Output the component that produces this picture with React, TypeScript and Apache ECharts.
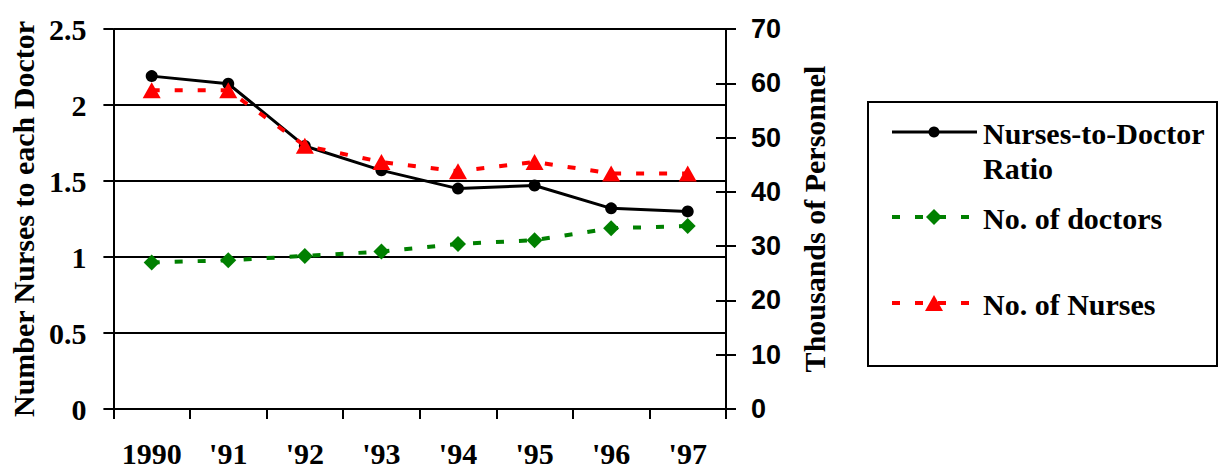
import React, { useEffect, useRef } from "react";
import * as echarts from "echarts";

const categories = ["1990", "'91", "'92", "'93", "'94", "'95", "'96", "'97"];
const ratioValues = [2.19, 2.14, 1.73, 1.57, 1.45, 1.47, 1.32, 1.3];
const doctorValues = [27.0, 27.4, 28.2, 29.0, 30.4, 31.1, 33.3, 33.7];
const nurseValues = [58.7, 58.7, 48.5, 45.5, 43.8, 45.5, 43.4, 43.4];
const leftTicks = { min: 0, max: 2.5, interval: 0.5 };
const rightTicks = { min: 0, max: 70, interval: 10 };
const seriesNames = ["Nurses-to-Doctor\nRatio", "No. of doctors", "No. of Nurses"];

const SERIF = "'Liberation Serif', 'Times New Roman', serif";
const SANS = "'Liberation Sans', Arial, sans-serif";

export default function App() {
  const ref = useRef<HTMLDivElement>(null);
  useEffect(() => {
    document.body.style.margin = "0";
    if (!ref.current) return;
    const chart = echarts.init(ref.current, null, { renderer: "svg" });
    const black = "#000";
    const green = "#008000";
    const red = "#ff0000";
    const serifLabel = { fontFamily: SERIF, fontWeight: "bold" as const, fontSize: 30, color: black };
    const lx = 892;
    const legendText = (x: number, y: number, text: string) => ({
      type: "text",
      x,
      y,
      style: { text, fontFamily: SERIF, fontWeight: "bold", fontSize: 30, fill: black, verticalAlign: "middle", align: "left" },
    });
    chart.setOption({
      animation: false,
      grid: { left: 110, right: 492, top: 29, bottom: 55 },
      xAxis: {
        type: "category",
        data: categories,
        boundaryGap: true,
        axisLine: { lineStyle: { color: black, width: 2 } },
        axisTick: { show: true, length: 10, interval: 0, lineStyle: { color: black, width: 2 } },
        axisLabel: { ...serifLabel, margin: 29, interval: 0 },
        splitLine: { show: false },
      },
      yAxis: [
        {
          type: "value",
          position: "left",
          ...leftTicks,
          name: "Number Nurses to each Doctor",
          nameLocation: "middle",
          nameRotate: 90,
          nameGap: 71,
          nameTextStyle: { fontFamily: SERIF, fontWeight: "bold", fontSize: 30, color: black },
          axisLine: { show: true, lineStyle: { color: black, width: 2 } },
          axisTick: { show: true, length: 10, lineStyle: { color: black, width: 2 } },
          axisLabel: { ...serifLabel, margin: 27 },
          splitLine: { show: true, lineStyle: { color: black, width: 2 } },
        },
        {
          type: "value",
          position: "right",
          ...rightTicks,
          name: "Thousands of Personnel",
          nameLocation: "middle",
          nameRotate: 90,
          nameGap: 73,
          nameTextStyle: { fontFamily: SERIF, fontWeight: "bold", fontSize: 30, color: black },
          axisLine: { show: true, lineStyle: { color: black, width: 2 } },
          axisTick: { show: true, length: 10, lineStyle: { color: black, width: 2 } },
          axisLabel: { fontFamily: SANS, fontWeight: "bold", fontSize: 27, color: black, margin: 25 },
          splitLine: { show: false },
        },
        {
          type: "value",
          position: "right",
          ...rightTicks,
          axisLine: { show: false },
          axisTick: { show: true, inside: true, length: 10, lineStyle: { color: black, width: 2 } },
          axisLabel: { show: false },
          splitLine: { show: false },
        },
      ],
      series: [
        {
          name: seriesNames[0],
          type: "line",
          yAxisIndex: 0,
          data: ratioValues,
          symbol: "circle",
          symbolSize: 12,
          itemStyle: { color: black },
          lineStyle: { color: black, width: 3 },
          z: 3,
        },
        {
          name: seriesNames[1],
          type: "line",
          yAxisIndex: 1,
          data: doctorValues,
          symbol: "diamond",
          symbolSize: 16,
          itemStyle: { color: green },
          lineStyle: { color: green, width: 4, type: [8, 15], cap: "butt" },
          z: 4,
        },
        {
          name: seriesNames[2],
          type: "line",
          yAxisIndex: 1,
          data: nurseValues,
          symbol: "triangle",
          symbolSize: [18, 16],
          itemStyle: { color: red },
          lineStyle: { color: red, width: 4, type: [8, 15], cap: "butt" },
          z: 5,
        },
      ],
      graphic: [
        { type: "rect", shape: { x: 868, y: 102, width: 349, height: 264 }, style: { fill: "#fff", stroke: black, lineWidth: 2 } },
        { type: "line", shape: { x1: lx, y1: 132, x2: 977, y2: 132 }, style: { stroke: black, lineWidth: 3 } },
        { type: "circle", shape: { cx: 934, cy: 132, r: 5.5 }, style: { fill: black } },
        legendText(983, 133, "Nurses-to-Doctor"),
        legendText(983, 168, "Ratio"),
        { type: "line", shape: { x1: lx, y1: 217, x2: 977, y2: 217 }, style: { stroke: green, lineWidth: 4, lineDash: [8, 15] } },
        { type: "polygon", shape: { points: [[934, 209], [942, 217], [934, 225], [926, 217]] }, style: { fill: green } },
        legendText(983, 218, "No. of doctors"),
        { type: "line", shape: { x1: lx, y1: 303, x2: 977, y2: 303 }, style: { stroke: red, lineWidth: 4, lineDash: [8, 15] } },
        { type: "polygon", shape: { points: [[934, 295], [943, 311], [925, 311]] }, style: { fill: red } },
        legendText(983, 304, "No. of Nurses"),
      ],
    });
    return () => chart.dispose();
  }, []);
  return <div ref={ref} style={{ width: 1218, height: 468 }} />;
}
